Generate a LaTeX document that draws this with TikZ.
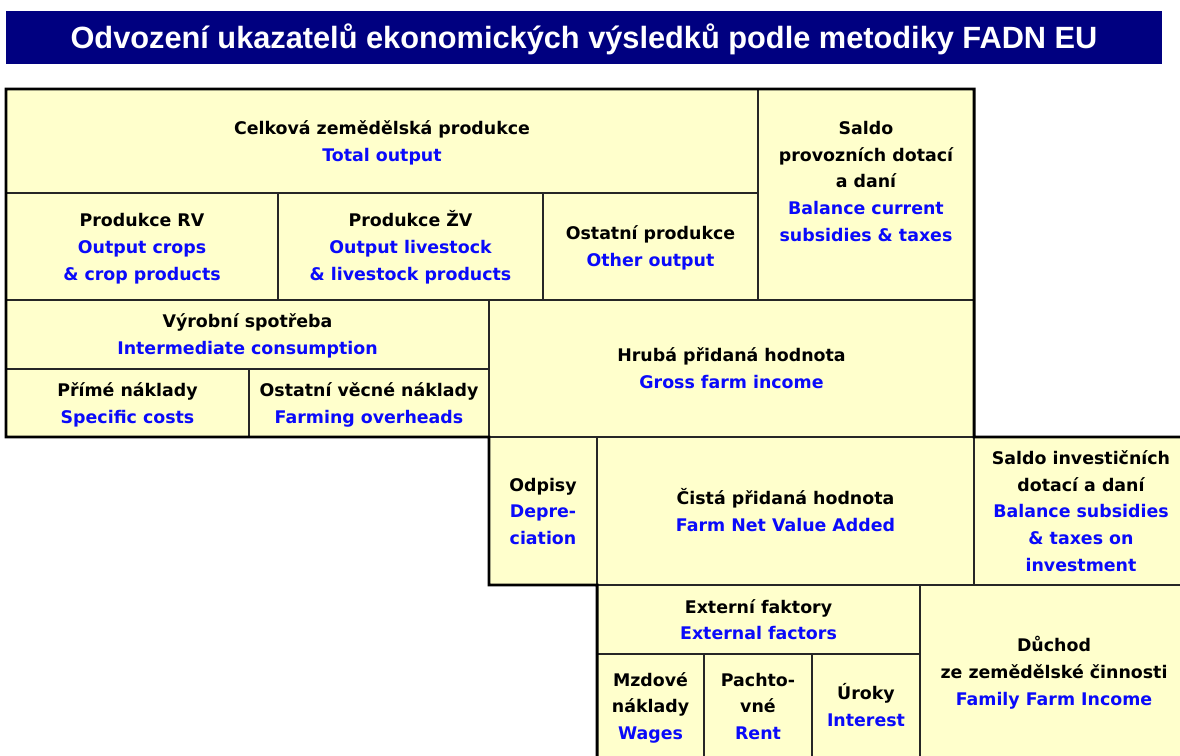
\documentclass[tikz,border=0pt]{standalone}
\usepackage{fontspec}
\setmainfont{DejaVu Sans}
\newfontfamily\headfont{Liberation Sans}
\usetikzlibrary{fit}

\definecolor{cellfill}{RGB}{255,255,204}
\definecolor{engblue}{RGB}{10,10,250}
\definecolor{headnavy}{RGB}{0,0,128}

% line box of one text row: 27px high, baseline 6.5px above its foot
\newcommand{\lnstrut}{\rule[-3.7pt]{0pt}{15.3pt}}

\begin{document}
\begin{tikzpicture}[x=0.02cm, y=-0.02cm,
    cell/.style={draw=black!85, line width=0.8pt, fill=cellfill, inner sep=0pt, outer sep=0pt},
    txt/.style={align=center, inner sep=0pt, font=\fontsize{9.9}{15.3}\selectfont\bfseries,
      execute at end node=\lnstrut},
    head/.style={fill=headnavy, inner sep=0pt, outer sep=0pt},
    headtxt/.style={text=white, inner sep=0pt, font=\headfont\fontsize{17.5}{20}\selectfont\bfseries},
    rim/.style={line width=1.7pt, line join=miter},
  ]
    \clip (0,0) rectangle (1180,756);
    \fill[white] (0,0) rectangle (1180,756);

    % === Title bar ===
    \node[head, fit={(6,11) (1162,64)}] (title) {};
    \node[headtxt] (titleT) at ([yshift=-1pt]title.center)
      {Odvození ukazatelů ekonomických výsledků podle metodiky FADN EU};

    % === Output ===
    \node[cell, fit={(6,89) (758,193)}] (celk) {};
    \node[txt] (celkT) at (celk.center)
      {\lnstrut Celková zemědělská produkce\\\color{engblue}Total output};
    \node[cell, fit={(758,89) (974,300)}] (sprov) {};
    \node[txt] (sprovT) at (sprov.center)
      {\lnstrut Saldo\\provozních dotací\\a daní\\\color{engblue}Balance current\\\color{engblue}subsidies \& taxes\\~};
    \node[cell, fit={(6,193) (278,300)}] (prv) {};
    \node[txt] (prvT) at (prv.center)
      {\lnstrut Produkce RV\\\color{engblue}Output crops\\\color{engblue}\& crop products};
    \node[cell, fit={(278,193) (543,300)}] (pzv) {};
    \node[txt] (pzvT) at (pzv.center)
      {\lnstrut Produkce ŽV\\\color{engblue}Output livestock\\\color{engblue}\& livestock products};
    \node[cell, fit={(543,193) (758,300)}] (ostp) {};
    \node[txt] (ostpT) at (ostp.center)
      {\lnstrut Ostatní produkce\\\color{engblue}Other output};

    % === Intermediate consumption ===
    \node[cell, fit={(6,300) (489,369)}] (vyrs) {};
    \node[txt] (vyrsT) at (vyrs.center)
      {\lnstrut Výrobní spotřeba\\\color{engblue}Intermediate consumption};
    \node[cell, fit={(6,369) (249,437)}] (prime) {};
    \node[txt] (primeT) at (prime.center)
      {\lnstrut Přímé náklady\\\color{engblue}Specific costs};
    \node[cell, fit={(249,369) (489,437)}] (ostvn) {};
    \node[txt] (ostvnT) at (ostvn.center)
      {\lnstrut Ostatní věcné náklady\\\color{engblue}Farming overheads};
    \node[cell, fit={(489,300) (974,437)}] (hph) {};
    \node[txt] (hphT) at (hph.center)
      {\lnstrut Hrubá přidaná hodnota\\\color{engblue}Gross farm income};

    % === Net value added ===
    \node[cell, fit={(489,437) (597,585)}] (odp) {};
    \node[txt] (odpT) at (odp.center)
      {\lnstrut Odpisy\\\color{engblue}Depre-\\\color{engblue}ciation};
    \node[cell, fit={(597,437) (974,585)}] (cph) {};
    \node[txt] (cphT) at (cph.center)
      {\lnstrut Čistá přidaná hodnota\\\color{engblue}Farm Net Value Added};
    \node[cell, fit={(974,437) (1188,585)}] (sinv) {};
    \node[txt] (sinvT) at (sinv.center)
      {\lnstrut Saldo investičních\\dotací a daní\\\color{engblue}Balance subsidies\\\color{engblue}\& taxes on\\\color{engblue}investment};

    % === Factors and income ===
    \node[cell, fit={(597,585) (920,654)}] (ext) {};
    \node[txt] (extT) at (ext.center)
      {\lnstrut Externí faktory\\\color{engblue}External factors};
    \node[cell, fit={(597,654) (704,758)}] (mzd) {};
    \node[txt] (mzdT) at (mzd.center)
      {\lnstrut Mzdové\\náklady\\\color{engblue}Wages};
    \node[cell, fit={(704,654) (812,758)}] (pacht) {};
    \node[txt] (pachtT) at (pacht.center)
      {\lnstrut Pachto-\\vné\\\color{engblue}Rent};
    \node[cell, fit={(812,654) (920,758)}] (urok) {};
    \node[txt] (urokT) at (urok.center)
      {\lnstrut Úroky\\\color{engblue}Interest};
    \node[cell, fit={(920,585) (1188,758)}] (duch) {};
    \node[txt] (duchT) at (duch.center)
      {\lnstrut Důchod\\ze zemědělské činnosti\\\color{engblue}Family Farm Income};

    % thick outline
    \draw[rim] (sinv.north east) -- (hph.south east) -- (sprov.north east)
      -- (celk.north west) -- (prime.south west) -- (ostvn.south east)
      -- (odp.south west) -- (odp.south east) -- (mzd.south west);
  \end{tikzpicture}
\end{document}
